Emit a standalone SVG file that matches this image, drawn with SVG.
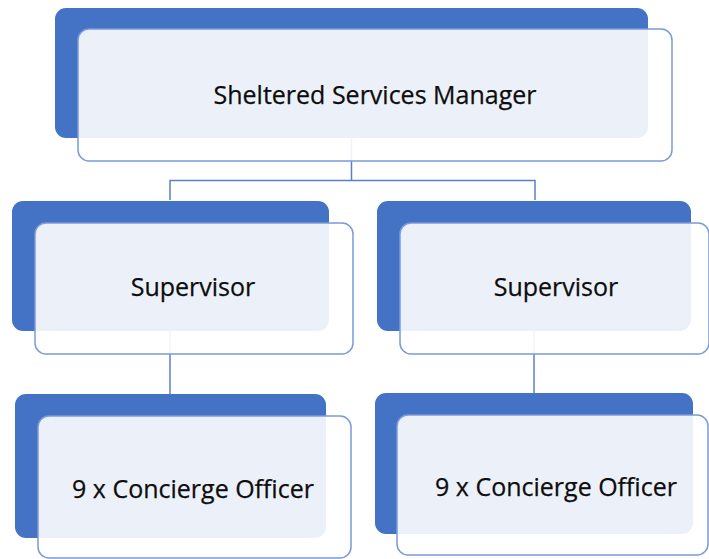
<svg xmlns="http://www.w3.org/2000/svg" width="709" height="559" viewBox="0 0 709 559">
  <style>
    .back { fill: #4472C4; }
    .front { fill: #ffffff; fill-opacity: 0.9; stroke: #7B9BD6; stroke-width: 1.5; }
    .link { fill: none; stroke: #5A80CC; stroke-width: 1.5; }
    .label { font-family: "Open Sans", "Noto Sans", "DejaVu Sans", sans-serif; font-size: 25px; fill: #0d0d0d; stroke: #0d0d0d; stroke-width: 0.25; text-anchor: middle; }
  </style>
  <rect width="709" height="559" fill="#ffffff"/>

  <!-- connectors sit beneath the boxes -->
  <g id="connectors">
    <path class="link" d="M351.5 138 V180.5 M170 200 V180.5 H535 V200"/>
    <path class="link" d="M170 331 V394"/>
    <path class="link" d="M534 331 V393"/>
  </g>

  <g id="manager">
    <rect class="back" x="55" y="8" width="593" height="130" rx="11"/>
    <rect class="front" x="78" y="29" width="594" height="132" rx="11"/>
    <text class="label" x="375" y="104">Sheltered Services Manager</text>
  </g>

  <g id="supervisor-left">
    <rect class="back" x="12" y="201" width="317" height="130" rx="11"/>
    <rect class="front" x="35" y="223" width="318" height="131" rx="11"/>
    <text class="label" x="193" y="296">Supervisor</text>
  </g>

  <g id="supervisor-right">
    <rect class="back" x="377" y="201" width="314" height="130" rx="11"/>
    <rect class="front" x="400" y="223" width="309" height="131" rx="11"/>
    <text class="label" x="556" y="296">Supervisor</text>
  </g>

  <g id="officers-left">
    <rect class="back" x="15" y="394" width="311" height="144" rx="11"/>
    <rect class="front" x="38" y="416" width="313" height="142" rx="11"/>
    <text class="label" x="193" y="498">9 x Concierge Officer</text>
  </g>

  <g id="officers-right">
    <rect class="back" x="375" y="393" width="318" height="141" rx="11"/>
    <rect class="front" x="397" y="415" width="311" height="140" rx="11"/>
    <text class="label" x="556" y="496">9 x Concierge Officer</text>
  </g>
</svg>
